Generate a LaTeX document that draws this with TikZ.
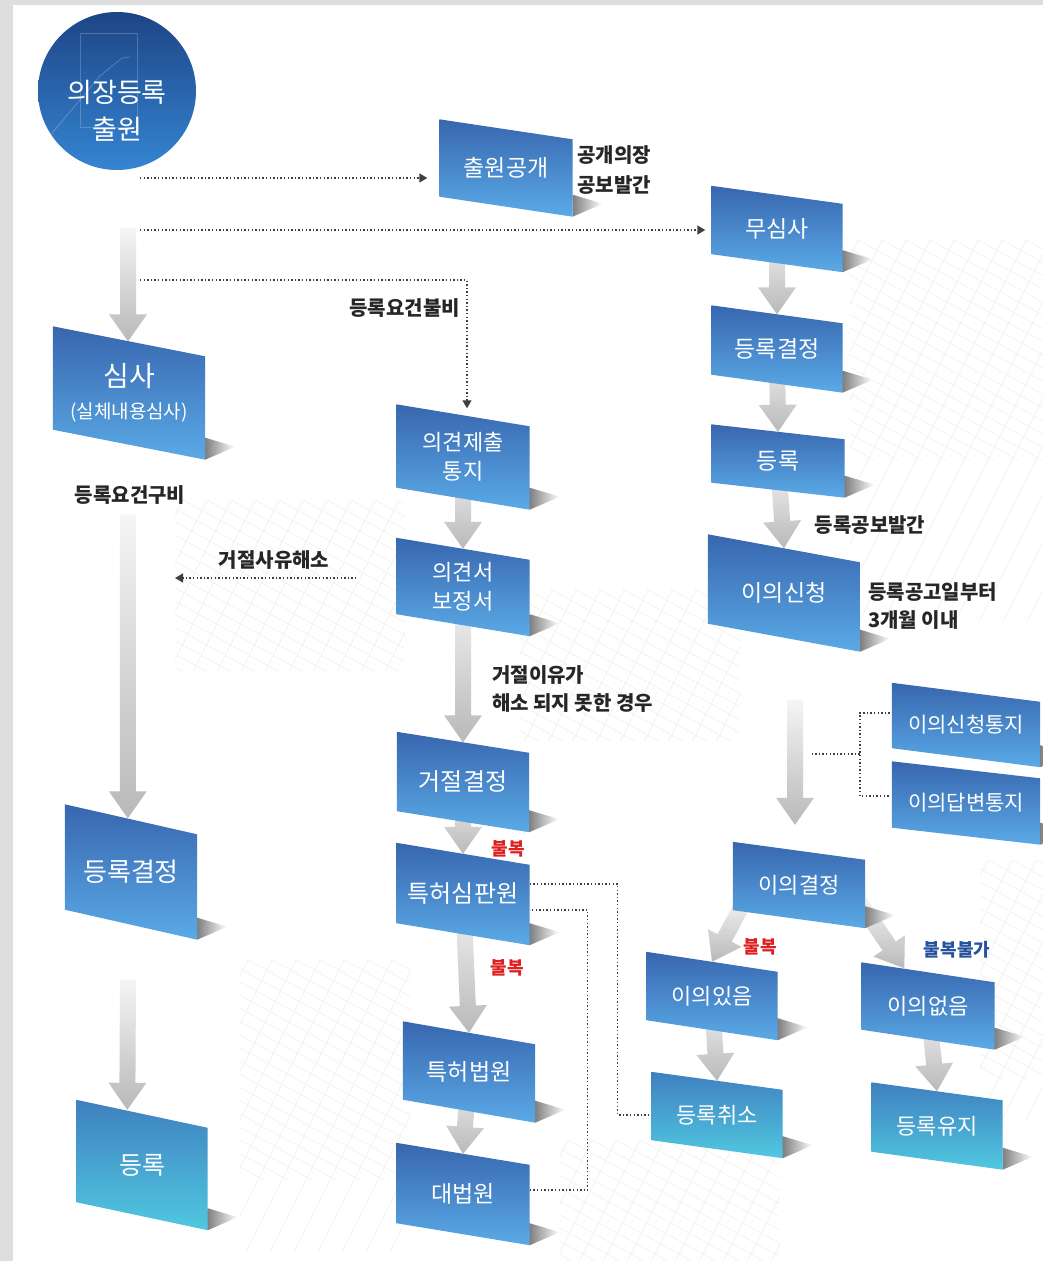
\documentclass[tikz,border=0pt]{standalone}
\usepackage{fontspec}
\setmainfont{Noto Sans CJK KR}
\usepackage{tikz}
\usetikzlibrary{calc,arrows.meta,backgrounds}
\usepackage{xcolor}
\definecolor{deep1}{HTML}{3866AF}
\definecolor{deep2}{HTML}{5AAAE6}
\definecolor{teal1}{HTML}{3F80C0}
\definecolor{teal2}{HTML}{50C8E0}
\definecolor{circ1}{HTML}{1D4585}
\definecolor{circ2}{HTML}{3585D3}
\definecolor{appred}{HTML}{E02020}
\definecolor{appblue}{HTML}{2650A0}
\definecolor{framec}{HTML}{DEDEDE}
\definecolor{gridc}{HTML}{F1EEE8}

% thick gray arrow between two points
\newcommand{\grayarrow}[2]{%
  \coordinate (garh) at ($(#2)!27pt!(#1)$);
  \shade[top color=gray!8, bottom color=gray!55]
    ($(#1)!8pt!90:(#2)$) -- ($(garh)!8pt!90:(#2)$) -- ($(garh)!19pt!90:(#2)$) -- (#2)
    -- ($(garh)!19pt!-90:(#2)$) -- ($(garh)!8pt!-90:(#2)$) -- ($(#1)!8pt!-90:(#2)$) -- cycle;
}

\def\boxlist{gongae/20/deep, musimsa/18/deep, rdecision/18/deep, rreg/15/deep,
  objection/28/deep, notice1/19/deep, notice2/17/deep, objdec/18/deep,
  objyes/20/deep, objno/20/deep, cancel/18/teal, keep/18/teal,
  opnotice/22/deep, opinion/22/deep, reject/21/deep, trial/22/deep,
  pcourt/23/deep, supreme/22/deep, exam/30/deep, ldecision/30/deep, lreg/28/teal}

\begin{document}
\begin{tikzpicture}[x=1pt,y=-1pt,
  pbox/.style={text=white, inner sep=0pt, align=center, minimum width=133pt,
    minimum height=#1, font=\fontsize{23}{28}\selectfont},
  lbl/.style={text=black!85, inner sep=0pt, align=left, font=\bfseries\fontsize{20}{28}\selectfont},
  appeal/.style={text=appred, inner sep=0pt, font=\bfseries\fontsize{18}{20}\selectfont},
  dotline/.style={black!75, line width=1.4pt, dash pattern=on 1.4pt off 2.2pt},
  dotarrow/.style={dotline, -{Triangle[width=9pt,length=8pt]}},
  gridline/.style={gridc, line width=0.5pt}]
  \useasboundingbox (0,0) rectangle (1043,1261);

  % start
  \node[circle, minimum size=158pt, inner sep=0pt, top color=circ1, bottom color=circ2] (chulwon) at (117,91) {};
  \draw[white, opacity=.2, line width=1pt] (80,33) rectangle (137,127);
  \draw[white, opacity=.2, line width=1pt] (48,138) -- (100,76) -- (122,58) -- (130,57);
  \node[text=white, align=center, inner sep=0pt, font=\fontsize{27}{37}\selectfont] (chulwontxt) at (117,111) {의장등록\\출원};

  % left column
  \node[pbox=133, minimum width=152pt, font=\fontsize{19}{32}\selectfont] (exam) at (129,393) {{\fontsize{28}{32}\selectfont 심사}\\(실체내용심사)};
  \node[pbox=135, minimum width=132pt, font=\fontsize{26}{30}\selectfont] (ldecision) at (131,872) {등록결정};
  \node[pbox=130, minimum width=131pt, font=\fontsize{25}{30}\selectfont] (lreg) at (142,1165) {등록};

  % middle column
  \node[pbox=97] (gongae) at (506,168) {출원공개};
  \node[pbox=105, font=\fontsize{22}{29}\selectfont] (opnotice) at (463,457) {의견제출\\통지};
  \node[pbox=98, font=\fontsize{22}{29}\selectfont] (opinion) at (463,587) {의견서\\보정서};
  \node[pbox=100, minimum width=132pt, font=\fontsize{24}{28}\selectfont] (reject) at (463,782) {거절결정};
  \node[pbox=102, font=\fontsize{24}{28}\selectfont] (trial) at (463,894) {특허심판원};
  \node[pbox=101, minimum width=132pt] (pcourt) at (469,1072) {특허법원};
  \node[pbox=102] (supreme) at (463,1194) {대법원};

  % right column
  \node[pbox=86, minimum width=131pt] (musimsa) at (777,229) {무심사};
  \node[pbox=87, minimum width=131pt] (rdecision) at (777,349) {등록결정};
  \node[pbox=73] (rreg) at (778,461) {등록};
  \node[pbox=117, minimum width=152pt] (objection) at (784,593) {이의신청};
  \node[pbox=84, minimum width=148pt, font=\fontsize{21}{25}\selectfont] (notice1) at (966,725) {이의신청통지};
  \node[pbox=83, minimum width=148pt, font=\fontsize{21}{25}\selectfont] (notice2) at (966,803) {이의답변통지};
  \node[pbox=86, minimum width=132pt, font=\fontsize{22}{26}\selectfont] (objdec) at (799,885) {이의결정};
  \node[pbox=88, minimum width=131pt, font=\fontsize{22}{26}\selectfont] (objyes) at (712,996) {이의있음};
  \node[pbox=87, font=\fontsize{22}{26}\selectfont] (objno) at (928,1006) {이의없음};
  \node[pbox=86, minimum width=131pt, font=\fontsize{22}{26}\selectfont] (cancel) at (717,1115) {등록취소};
  \node[pbox=87, minimum width=131pt, font=\fontsize{22}{26}\selectfont] (keep) at (937,1126) {등록유지};

  % labels
  \node[lbl, anchor=west, font=\bfseries\fontsize{20}{30}\selectfont] (pubnote) at (577,170) {공개의장\\공보발간};
  \node[lbl, anchor=east] (bulbi) at (460,308) {등록요건불비};
  \node[lbl] (gubi) at (130,495) {등록요건구비};
  \node[lbl] (haeso) at (274,560) {거절사유해소};
  \node[lbl, anchor=west] (unsolved) at (492,689) {거절이유가\\해소 되지 못한 경우};
  \node[lbl] (regpub) at (870,525) {등록공보발간};
  \node[lbl, anchor=west] (within) at (868,606) {등록공고일부터\\3개월 이내};
  \node[appeal] (ap1) at (508,849) {불복};
  \node[appeal] (ap2) at (507,968) {불복};
  \node[appeal] (ap3) at (760,947) {불복};
  \node[appeal, text=appblue] (noap) at (957,950) {불복불가};

  % dotted connectors
  \coordinate (d1) at (140,178);
  \coordinate (d2) at (140,230);
  \coordinate (d3) at (140,280);
  \coordinate (d4e) at (175,578);
  \draw[dotarrow, shorten >=12pt] (d1) -- (d1 -| gongae.west);
  \draw[dotarrow, shorten >=6pt] (d2) -- (d2 -| musimsa.west);
  \draw[dotarrow] (d3) -| ($(opnotice.north)+(4,4)$);
  \draw[dotarrow, shorten <=40pt] (opinion.west |- d4e) -- (d4e);
  \draw[dotline] ($(trial.east)+(0,-10)$) -- ++(88,0) |- (cancel.west);
  \draw[dotline] (supreme.east) ++(0,-4) -- ++(58,0) |- ($(trial.east)+(0,16)$);
  \draw[dotline] ($(notice1.west)+(-2,-12)$) -- ++(-30,0) |- ($(notice2.west)+(-2,-7)$);
  \coordinate (bm) at ($(notice1.west)!.5!(notice2.west)+(-32,-10)$);
  \draw[dotline] (bm) -- ++(-50,0);

  \begin{scope}[on background layer]
    \fill[framec] (0,0) rectangle (1043,1261);
    \fill[white] (13,5) rectangle (1043,1261);
    % faint grid patches
    \foreach \gx/\gy/\gw/\gh in {175/500/230/170, 520/590/220/150, 850/240/193/380,
        560/1140/220/120, 240/960/170/290, 980/860/63/260} {
      \begin{scope}
        \clip (\gx,\gy) rectangle ++(\gw,\gh);
        \foreach \k in {-400,-376,...,400} {
          \draw[gridline] ({\gx+\k},\gy) -- ++(400,220);
          \draw[gridline] ({\gx+\k},\gy) -- ++(-200,400);
        }
      \end{scope}
    }
    \foreach \n/\sl/\col in \boxlist {
      \coordinate (\n-t) at ($(\n.north)+(0,\sl/2)$);
    }
    % gray arrows
    \coordinate (g1) at ($(chulwon.south)+(11,58)$);
    \coordinate (g1e) at ($(exam.north)+(-1,15)$);
    \grayarrow{g1}{g1e}
    \coordinate (g2) at ($(gubi.south)+(-2,10)$);
    \coordinate (g2e) at ($(ldecision.north west)+(63,14)$);
    \grayarrow{g2}{g2e}
    \coordinate (g3) at ($(ldecision.south)+(-3,40)$);
    \coordinate (g3e) at ($(lreg.north west)+(51,10)$);
    \grayarrow{g3}{g3e}
    \grayarrow{opnotice}{opinion-t}
    \grayarrow{opinion}{reject-t}
    \grayarrow{reject}{trial-t}
    \grayarrow{trial}{pcourt-t}
    \grayarrow{pcourt}{supreme-t}
    \grayarrow{musimsa}{rdecision-t}
    \grayarrow{rdecision}{rreg-t}
    \grayarrow{rreg}{objection-t}
    \coordinate (g4) at ($(objection.south)+(11,48)$);
    \coordinate (g4e) at ($(objdec.north)+(-4,-17)$);
    \grayarrow{g4}{g4e}
    \coordinate (g5) at ($(objdec.south west)+(12,-28)$);
    \grayarrow{g5}{objyes-t}
    \coordinate (g6) at ($(objdec.south east)+(-7,-28)$);
    \coordinate (g6e) at ($(objno.north west)+(43,6)$);
    \grayarrow{g6}{g6e}
    \grayarrow{objyes}{cancel-t}
    \grayarrow{objno}{keep-t}
    % slanted boxes with shadow
    \foreach \n/\sl/\col in \boxlist {
      \shade[left color=black!50, right color=white] ($(\n.south east)+(0,-22)$) -- ($(\n.south east)+(30,-13)$) -- (\n.south east) -- cycle;
      \shade[top color=\col1, bottom color=\col2] (\n.north west) -- ($(\n.north east)+(0,\sl)$) -- (\n.south east) -- ($(\n.south west)+(0,-\sl)$) -- cycle;
    }
  \end{scope}
\end{tikzpicture}
\end{document}
